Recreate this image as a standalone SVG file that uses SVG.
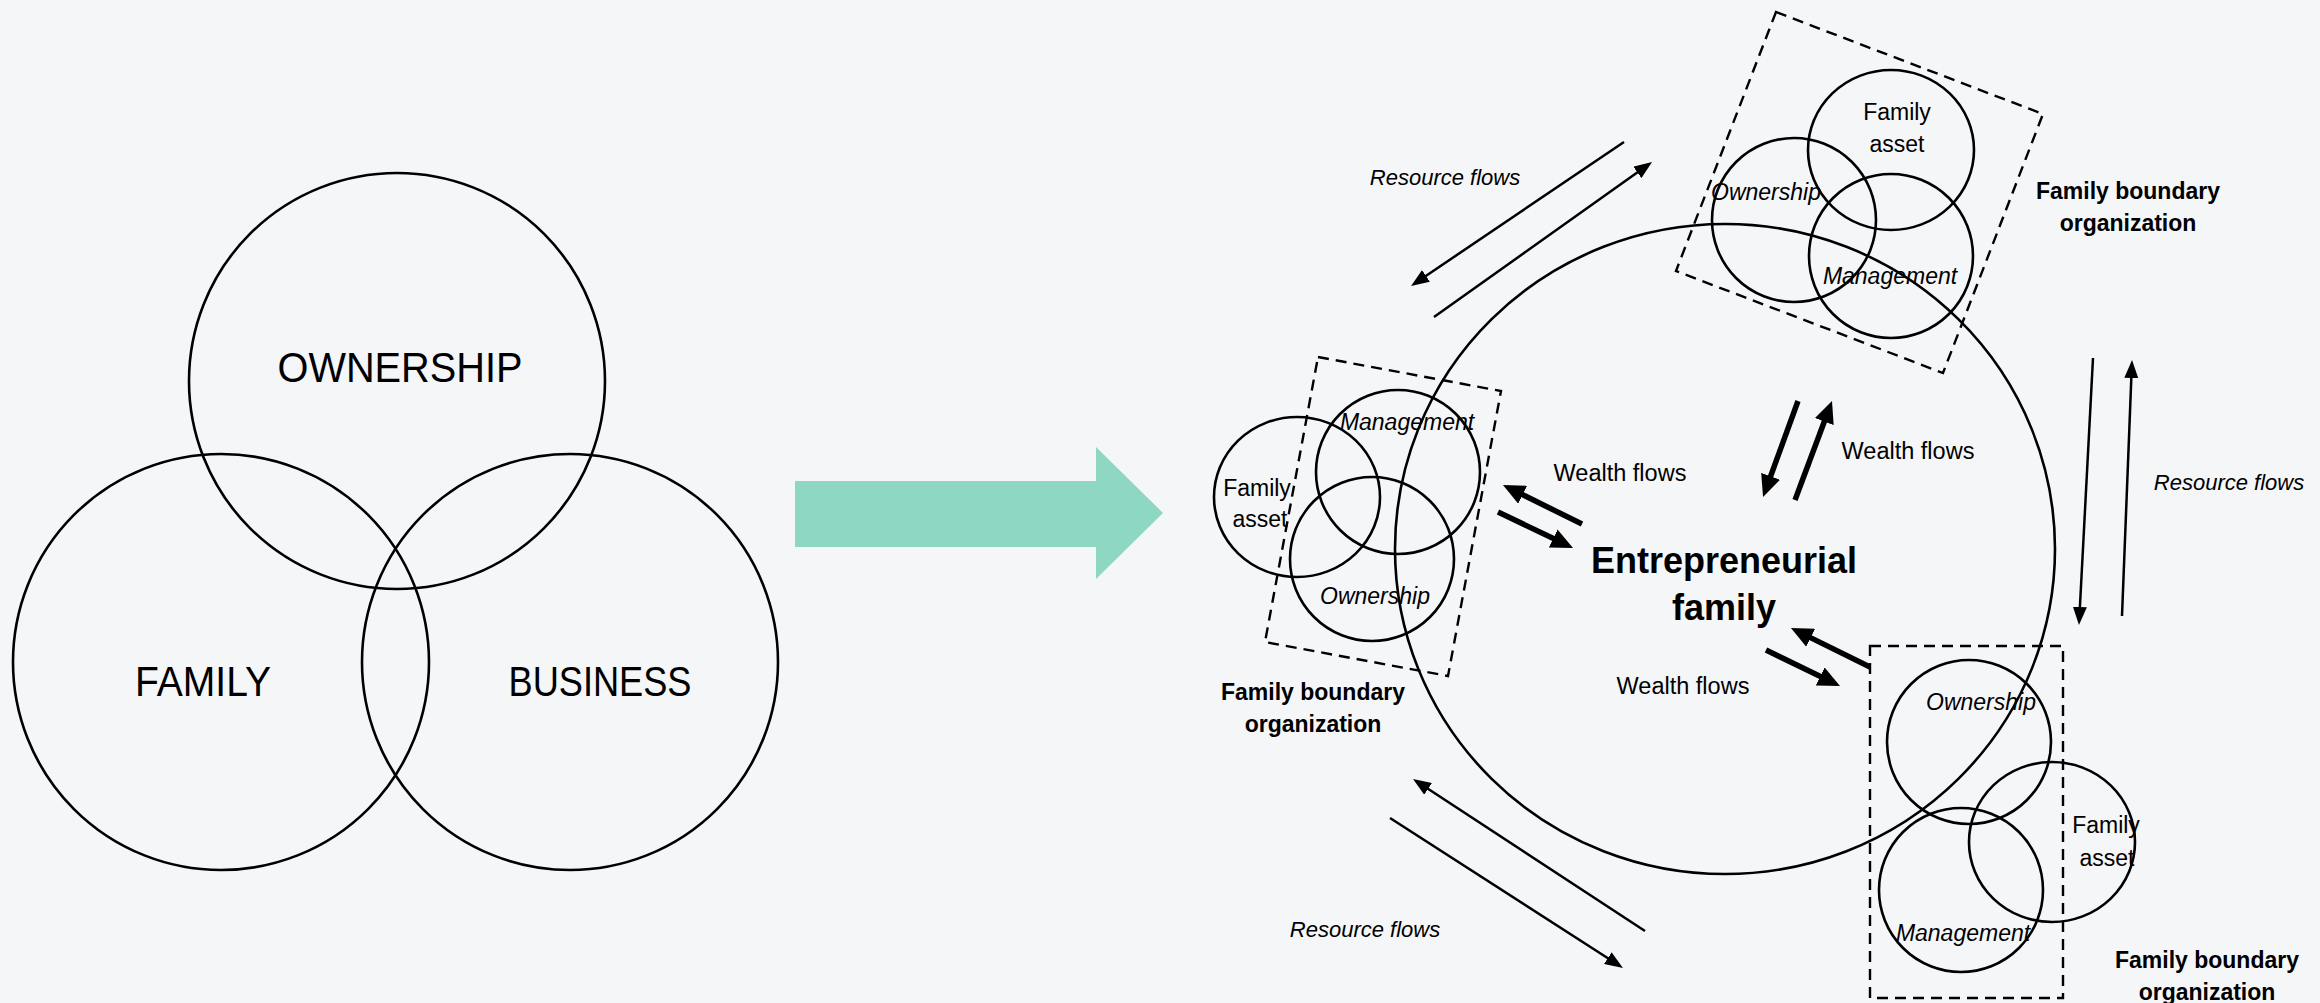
<svg xmlns="http://www.w3.org/2000/svg" width="2320" height="1003" viewBox="0 0 2320 1003">
<style>
  .ring { fill: none; stroke: #000; stroke-width: 2.6; }
  .dash { fill: none; stroke: #000; stroke-width: 2.4; stroke-dasharray: 11 7; }
  .big { font-family: "Liberation Sans", Arial, sans-serif; font-size: 43px; fill: #000; text-anchor: middle; }
  .lbl { font-family: "Liberation Sans", Arial, sans-serif; font-size: 23px; fill: #000; text-anchor: middle; }
  .it { font-style: italic; }
  .bold { font-weight: bold; }
  .thin { stroke: #000; stroke-width: 2.5; fill: none; marker-end: url(#hThin); }
  .thick { stroke: #000; stroke-width: 5.5; fill: none; marker-end: url(#hThick); }
</style>
<defs>
  <marker id="hThin" markerUnits="userSpaceOnUse" viewBox="0 0 18 14" refX="2" refY="7" markerWidth="18" markerHeight="14" orient="auto">
    <path d="M0,0 L18,7 L0,14 z" fill="#000"/>
  </marker>
  <marker id="hThick" markerUnits="userSpaceOnUse" viewBox="0 0 22 20" refX="2" refY="10" markerWidth="22" markerHeight="20" orient="auto">
    <path d="M0,0 L22,10 L0,20 z" fill="#000"/>
  </marker>
</defs>
<rect width="2320" height="1003" fill="#f5f6f8"/>

<!-- Left three-circle model -->
<g id="ownership">
  <circle class="ring" cx="397" cy="381" r="208"/>
  <text class="big" x="400" y="382" textLength="245" lengthAdjust="spacingAndGlyphs">OWNERSHIP</text>
</g>
<g id="family">
  <circle class="ring" cx="221" cy="662" r="208"/>
  <text class="big" x="203" y="696" textLength="136" lengthAdjust="spacingAndGlyphs">FAMILY</text>
</g>
<g id="business">
  <circle class="ring" cx="570" cy="662" r="208"/>
  <text class="big" x="600" y="696" textLength="183" lengthAdjust="spacingAndGlyphs">BUSINESS</text>
</g>

<!-- Transition arrow -->
<g id="transition-arrow">
  <polygon points="795,481 1096,481 1096,447 1163,513 1096,579 1096,547 795,547" fill="#8ed7c3"/>
</g>

<!-- Central entrepreneurial family -->
<g id="entrepreneurial-family">
  <ellipse class="ring" cx="1725" cy="549" rx="330" ry="325"/>
  <text class="lbl bold" style="font-size:36px" x="1724" y="573">Entrepreneurial</text>
  <text class="lbl bold" style="font-size:36px" x="1724" y="620">family</text>
</g>

<!-- Left boundary organization -->
<g id="fbo-left">
  <polygon class="dash" points="1318,357 1501,391 1448,676 1265,642"/>
  <ellipse class="ring" cx="1297" cy="497" rx="83" ry="80"/>
  <circle class="ring" cx="1398" cy="472" r="82"/>
  <circle class="ring" cx="1372" cy="559" r="82"/>
  <text class="lbl it" x="1407" y="430">Management</text>
  <text class="lbl" x="1257" y="496">Family</text>
  <text class="lbl" x="1260" y="527">asset</text>
  <text class="lbl it" x="1375" y="604">Ownership</text>
  <text class="lbl bold" x="1313" y="700">Family boundary</text>
  <text class="lbl bold" x="1313" y="732">organization</text>
</g>

<!-- Top boundary organization -->
<g id="fbo-top">
  <polygon class="dash" points="1776,12 2043,114 1943,373 1676,271"/>
  <ellipse class="ring" cx="1891" cy="150" rx="83" ry="80"/>
  <circle class="ring" cx="1794" cy="220" r="82"/>
  <circle class="ring" cx="1891" cy="256" r="82"/>
  <text class="lbl" x="1897" y="120">Family</text>
  <text class="lbl" x="1897" y="152">asset</text>
  <text class="lbl it" x="1766" y="200">Ownership</text>
  <text class="lbl it" x="1890" y="284">Management</text>
  <text class="lbl bold" x="2128" y="199">Family boundary</text>
  <text class="lbl bold" x="2128" y="231">organization</text>
</g>

<!-- Bottom-right boundary organization -->
<g id="fbo-bottom">
  <rect class="dash" x="1870" y="646" width="193" height="352"/>
  <circle class="ring" cx="1969" cy="742" r="82"/>
  <ellipse class="ring" cx="2052" cy="842" rx="83" ry="80"/>
  <circle class="ring" cx="1961" cy="890" r="82"/>
  <text class="lbl it" x="1981" y="710">Ownership</text>
  <text class="lbl" x="2106" y="833">Family</text>
  <text class="lbl" x="2107" y="866">asset</text>
  <text class="lbl it" x="1963" y="941">Management</text>
  <text class="lbl bold" x="2207" y="968">Family boundary</text>
  <text class="lbl bold" x="2207" y="1000">organization</text>
</g>

<!-- Connectors -->
<g id="connectors">
  <line class="thin" x1="1624" y1="142" x2="1424.3" y2="277.0"/>
  <line class="thin" x1="1434" y1="317" x2="1639.0" y2="171.3"/>
  <line class="thin" x1="1645" y1="931" x2="1426.4" y2="787.8"/>
  <line class="thin" x1="1390" y1="818" x2="1609.5" y2="959.3"/>
  <line class="thin" x1="2093" y1="358" x2="2079.8" y2="609.0"/>
  <line class="thin" x1="2122" y1="616" x2="2131.4" y2="376.0"/>
  <line class="thick" x1="1798" y1="401" x2="1769.9" y2="478.2"/>
  <line class="thick" x1="1795" y1="500" x2="1825.0" y2="419.7"/>
  <line class="thick" x1="1582" y1="524" x2="1520.9" y2="493.9"/>
  <line class="thick" x1="1498" y1="512" x2="1555.0" y2="539.3"/>
  <line class="thick" x1="1870" y1="667" x2="1808.9" y2="636.9"/>
  <line class="thick" x1="1766" y1="650" x2="1822.0" y2="677.3"/>
</g>

<!-- Connector labels -->
<g id="connector-labels">
  <text class="lbl it" style="font-size:22px" x="1445" y="185">Resource flows</text>
  <text class="lbl it" style="font-size:22px" x="1365" y="937">Resource flows</text>
  <text class="lbl it" style="font-size:22px" x="2229" y="490">Resource flows</text>
  <text class="lbl" style="font-size:23.5px" x="1620" y="481">Wealth flows</text>
  <text class="lbl" style="font-size:23.5px" x="1908" y="459">Wealth flows</text>
  <text class="lbl" style="font-size:23.5px" x="1683" y="694">Wealth flows</text>
</g>
</svg>
